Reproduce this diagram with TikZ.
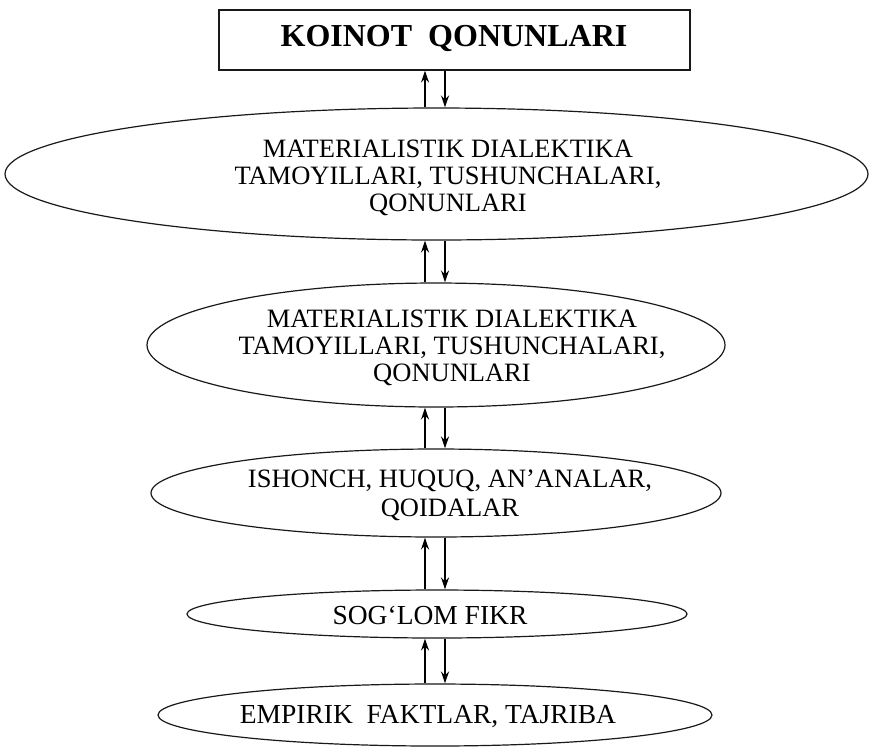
\documentclass[tikz,border=0pt]{standalone}
\usepackage{fontspec}
\setmainfont{Liberation Serif}
\usetikzlibrary{arrows.meta,calc,shapes.geometric}
\begin{document}
\begin{tikzpicture}[x=1pt,y=-1pt,
  shapeline/.style={draw=black!90,line width=1.2pt},
  ell/.style={shapeline,ellipse,inner sep=0pt},
  txt/.style={inner sep=0pt,align=center,font=\fontsize{26.5}{27}\selectfont},
  arr/.style={line width=1.8pt,-{Stealth[length=12pt,width=8pt]}}]
\useasboundingbox (0,0) rectangle (874,748);
% top box
\node[shapeline,minimum width=471pt,minimum height=60pt,inner sep=0pt] (top) at (454.5,40) {};
\node[inner sep=0pt,font=\fontsize{32}{36}\selectfont\bfseries] (ttop) at (454,38) {KOINOT\ \ QONUNLARI};
% ellipses
\node[ell,minimum width=863pt,minimum height=132pt] (e1) at (436.5,174) {};
\node[ell,minimum width=578pt,minimum height=124pt] (e2) at (436,345) {};
\node[ell,minimum width=570pt,minimum height=88pt] (e3) at (436,493) {};
\node[ell,minimum width=500pt,minimum height=48pt] (e4) at (437,614) {};
\node[ell,minimum width=554pt,minimum height=62pt] (e5) at (435,715) {};
% texts
\node[txt] (t1) at (448,178) {MATERIALISTIK DIALEKTIKA\\TAMOYILLARI, TUSHUNCHALARI,\\QONUNLARI};
\node[txt] (t2) at (452,348) {MATERIALISTIK DIALEKTIKA\\TAMOYILLARI, TUSHUNCHALARI,\\QONUNLARI};
\node[txt,font=\fontsize{26.5}{29}\selectfont] (t3) at (450,495) {ISHONCH, HUQUQ, AN’ANALAR,\\QOIDALAR};
\node[txt,font=\fontsize{27.5}{30}\selectfont] (t4) at (430,615) {SOG‘LOM FIKR};
\node[txt,font=\fontsize{27.5}{30}\selectfont] (t5) at (428,717) {EMPIRIK\ \ FAKTLAR, TAJRIBA};
% arrows
\coordinate (L) at (425,0);
\coordinate (R) at (445,0);
\foreach \lo/\hi in {e1/top,e2/e1,e3/e2,e4/e3,e5/e4}{
  \draw[arr] (L |- \lo.north) -- (L |- \hi.south);
  \draw[arr] (R |- \hi.south) -- (R |- \lo.north);
}
\end{tikzpicture}
\end{document}
